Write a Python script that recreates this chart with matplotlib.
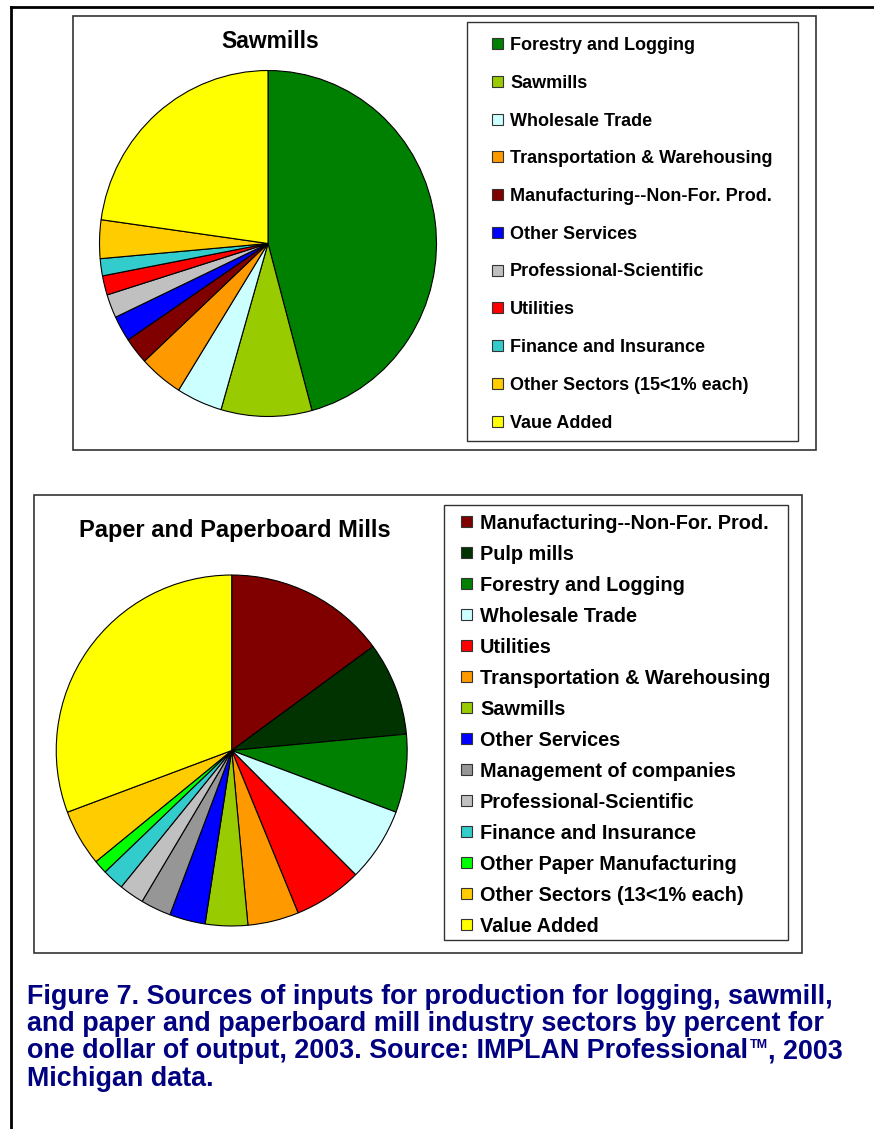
import matplotlib
matplotlib.use("Agg")
import matplotlib.pyplot as plt
from matplotlib.patches import Rectangle

plt.rcParams['font.family'] = ['Liberation Sans', 'DejaVu Sans']

# Sawmills: percent of inputs per dollar of output
saw_labels = ["Forestry and Logging", "Sawmills", "Wholesale Trade",
              "Transportation & Warehousing", "Manufacturing--Non-For. Prod.",
              "Other Services", "Professional-Scientific", "Utilities",
              "Finance and Insurance", "Other Sectors (15<1% each)", "Vaue Added"]
saw_values = [45.8, 8.7, 4.4, 4.2, 2.5, 2.4, 2.2, 1.8, 1.6, 3.6, 22.8]
saw_colors = ["#008000", "#99CC00", "#CCFFFF", "#FF9900", "#800000", "#0000FF",
              "#C0C0C0", "#FF0000", "#33CCCC", "#FFCC00", "#FFFF00"]

# Paper and paperboard mills
pap_labels = ["Manufacturing--Non-For. Prod.", "Pulp mills", "Forestry and Logging",
              "Wholesale Trade", "Utilities", "Transportation & Warehousing",
              "Sawmills", "Other Services", "Management of companies",
              "Professional-Scientific", "Finance and Insurance",
              "Other Paper Manufacturing", "Other Sectors (13<1% each)", "Value Added"]
pap_values = [14.9, 8.6, 7.2, 6.8, 6.3, 4.7, 3.9, 3.3, 2.8, 2.3, 2.0, 1.25, 5.2, 30.7]
pap_colors = ["#800000", "#003300", "#008000", "#CCFFFF", "#FF0000", "#FF9900",
              "#99CC00", "#0000FF", "#969696", "#C0C0C0", "#33CCCC", "#00FF00",
              "#FFCC00", "#FFFF00"]

caption = ["Figure 7. Sources of inputs for production for logging, sawmill,",
           "and paper and paperboard mill industry sectors by percent for",
           "one dollar of output, 2003. Source: IMPLAN Professional",
           "Michigan data."]

W, H = 874, 1129
NAVY = "#000080"
fig = plt.figure(figsize=(W / 100, H / 100), dpi=100)

# overlay axes in pixel coordinates for frames, legends and text
ov = fig.add_axes([0, 0, 1, 1])
ov.set_xlim(0, W)
ov.set_ylim(H, 0)
ov.axis("off")


def pix_axes(x0, y0, w, h):
    return fig.add_axes([x0 / W, 1 - (y0 + h) / H, w / W, h / H])


def draw_pie(cx, cy, rx, ry, values, colors):
    ax = pix_axes(cx - rx, cy - ry, 2 * rx, 2 * ry)
    ax.pie(values, colors=colors, startangle=90, counterclock=False,
           wedgeprops=dict(edgecolor="black", linewidth=0.8))
    ax.set_xlim(-1.003, 1.003)
    ax.set_ylim(-1.003, 1.003)
    ax.set_aspect("auto")
    ax.axis("off")


def draw_legend(x0, y0, x1, y1, labels, colors, first_y, step, size, box_x, text_x, sq):
    ov.add_patch(Rectangle((x0, y0), x1 - x0, y1 - y0, fill=False,
                           edgecolor="#333333", linewidth=1))
    for i, (lab, col) in enumerate(zip(labels, colors)):
        y = first_y + i * step
        ov.add_patch(Rectangle((box_x, y - sq / 2), sq, sq, facecolor=col,
                               edgecolor="#333333", linewidth=0.8))
        ov.text(text_x, y + 2, lab, fontsize=size, fontweight="bold",
                va="center", ha="left", color="black")


# page border (top and left)
ov.plot([11, W], [6.5, 6.5], color="black", linewidth=2)
ov.plot([11, 11], [6.5, H], color="black", linewidth=2)

# --- Sawmills panel ---
ov.add_patch(Rectangle((72.5, 15.5), 743, 434, fill=False, edgecolor="#333333", linewidth=1.2))
ov.text(270, 42, "Sawmills", fontsize=16.5, fontweight="bold", ha="center", va="center")
draw_pie(268, 243.5, 169, 173.5, saw_values, saw_colors)
draw_legend(467, 22, 798, 441, saw_labels, saw_colors, 43.5, 37.75, 13, 492, 510, 11)

# --- Paper and Paperboard Mills panel ---
ov.add_patch(Rectangle((33.5, 495), 768, 458, fill=False, edgecolor="#333333", linewidth=1.2))
ov.text(235, 531, "Paper and Paperboard Mills", fontsize=17, fontweight="bold",
        ha="center", va="center")
draw_pie(231.7, 750.5, 176, 176, pap_values, pap_colors)
draw_legend(444, 505, 788, 940, pap_labels, pap_colors, 521.5, 31.0, 14.3, 461, 480, 11)

# caption
cap_size = 19.4
base0 = 1004
step = 27.2
lines = []
for i, line in enumerate(caption):
    t = ov.text(27, base0 + i * step, line, fontsize=cap_size, fontweight="bold",
                color=NAVY, ha="left", va="baseline")
    lines.append(t)
base3 = base0 + 2 * step
tm = ov.annotate("TM", xy=(1, base3 - 10), xycoords=(lines[2], "data"),
                 xytext=(1, 0), textcoords="offset points", fontsize=9,
                 fontweight="bold", color=NAVY, ha="left", va="baseline")
ov.annotate(", 2003", xy=(1, base3), xycoords=(tm, "data"),
            fontsize=cap_size, fontweight="bold", color=NAVY,
            ha="left", va="baseline")

fig.savefig("out.png", dpi=100)
